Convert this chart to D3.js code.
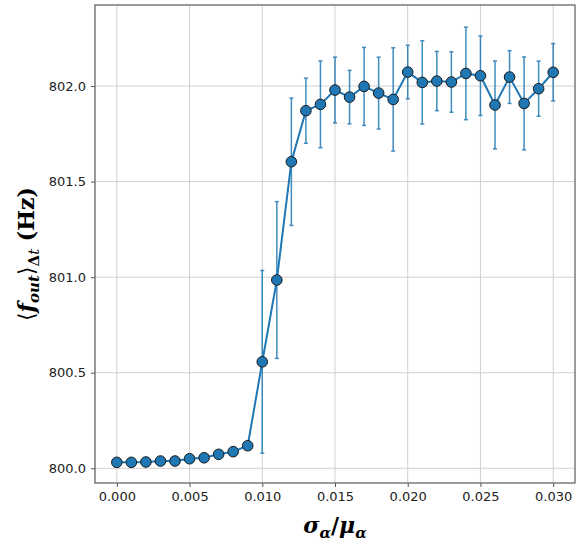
<!DOCTYPE html>
<html>
<head>
<meta charset="utf-8">
<script src="https://cdn.jsdelivr.net/npm/d3@7"></script>
<style>
  body { margin: 0; background: #fff; }
  svg { display: block; }
</style>
</head>
<body>
<div id="chart-area"></div>
<script>
const sigmaRatio = [0.000, 0.001, 0.002, 0.003, 0.004, 0.005, 0.006, 0.007, 0.008, 0.009,
  0.010, 0.011, 0.012, 0.013, 0.014, 0.015, 0.016, 0.017, 0.018, 0.019, 0.020,
  0.021, 0.022, 0.023, 0.024, 0.025, 0.026, 0.027, 0.028, 0.029, 0.030];
const meanFreq = [800.031, 800.031, 800.033, 800.038, 800.038, 800.050, 800.055, 800.073, 800.087, 800.118,
  800.557, 800.985, 801.604, 801.871, 801.904, 801.979, 801.942, 801.998, 801.963, 801.930, 802.073,
  802.019, 802.026, 802.021, 802.066, 802.054, 801.901, 802.047, 801.909, 801.986, 802.072];
const freqErr = [0.003, 0.003, 0.003, 0.003, 0.003, 0.004, 0.004, 0.005, 0.006, 0.008,
  0.478, 0.410, 0.333, 0.170, 0.227, 0.172, 0.140, 0.204, 0.188, 0.270, 0.140,
  0.218, 0.155, 0.158, 0.242, 0.208, 0.230, 0.138, 0.243, 0.144, 0.150];
const xTicks = [0.000, 0.005, 0.010, 0.015, 0.020, 0.025, 0.030];
const yTicks = [800.0, 800.5, 801.0, 801.5, 802.0];

const width = 583, height = 545;
const plotL = 95, plotR = 575, plotT = 5, plotB = 483;
const blue = "#1f77b4";

const svg = d3.select("#chart-area").append("svg")
  .attr("width", width)
  .attr("height", height);

const x = d3.scaleLinear().domain([-0.0015, 0.0315]).range([plotL, plotR]);
const y = d3.scaleLinear().domain([799.923, 802.424]).range([plotB, plotT]);

// grid
svg.append("g").selectAll("line").data(xTicks).join("line")
  .attr("x1", d => x(d)).attr("x2", d => x(d))
  .attr("y1", plotT).attr("y2", plotB)
  .attr("stroke", "#d0d0d0").attr("stroke-width", 1);
svg.append("g").selectAll("line").data(yTicks).join("line")
  .attr("x1", plotL).attr("x2", plotR)
  .attr("y1", d => y(d)).attr("y2", d => y(d))
  .attr("stroke", "#d0d0d0").attr("stroke-width", 1);

// axes
const xAxis = svg.append("g")
  .attr("transform", `translate(0,${plotB})`)
  .call(d3.axisBottom(x).tickValues(xTicks).tickFormat(d3.format(".3f")).tickSize(4).tickPadding(5));
const yAxis = svg.append("g")
  .attr("transform", `translate(${plotL},0)`)
  .call(d3.axisLeft(y).tickValues(yTicks).tickFormat(d3.format(".1f")).tickSize(4).tickPadding(5));
[xAxis, yAxis].forEach(g => {
  g.select(".domain").remove();
  g.selectAll(".tick line").attr("stroke", "#555");
  g.selectAll("text")
    .attr("fill", "#222")
    .style("font-family", "DejaVu Sans, sans-serif")
    .style("font-size", "13px");
});

// spines
svg.append("rect")
  .attr("x", plotL).attr("y", plotT)
  .attr("width", plotR - plotL).attr("height", plotB - plotT)
  .attr("fill", "none").attr("stroke", "#666").attr("stroke-width", 1.3);

// error bars
const errs = svg.append("g").attr("stroke", blue).attr("stroke-width", 1.5).attr("opacity", 0.85);
sigmaRatio.forEach((s, i) => {
  const cx = x(s), y0 = y(meanFreq[i] - freqErr[i]), y1 = y(meanFreq[i] + freqErr[i]);
  errs.append("line").attr("x1", cx).attr("x2", cx).attr("y1", y0).attr("y2", y1);
  errs.append("line").attr("x1", cx - 2).attr("x2", cx + 2).attr("y1", y0).attr("y2", y0);
  errs.append("line").attr("x1", cx - 2).attr("x2", cx + 2).attr("y1", y1).attr("y2", y1);
});

// line
const pts = sigmaRatio.map((s, i) => [s, meanFreq[i]]);
svg.append("path")
  .attr("d", d3.line().x(d => x(d[0])).y(d => y(d[1]))(pts))
  .attr("fill", "none").attr("stroke", blue).attr("stroke-width", 2);

// markers
svg.append("g").selectAll("circle").data(pts).join("circle")
  .attr("cx", d => x(d[0])).attr("cy", d => y(d[1]))
  .attr("r", 5.3)
  .attr("fill", blue).attr("stroke", "#1a1a1a").attr("stroke-width", 1);

// x label
const xl = svg.append("text")
  .attr("x", (plotL + plotR) / 2).attr("y", 533)
  .attr("text-anchor", "middle")
  .style("font-family", "DejaVu Serif, serif")
  .style("font-weight", "bold").style("font-style", "italic")
  .style("font-size", "22px");
xl.append("tspan").text("σ");
xl.append("tspan").attr("dy", 5).style("font-size", "15px").text("α");
xl.append("tspan").attr("dy", -5).style("font-style", "normal").text("/");
xl.append("tspan").text("μ");
xl.append("tspan").attr("dy", 5).style("font-size", "15px").text("α");

// y label
const yl = svg.append("text")
  .attr("transform", `translate(34,${(plotT + plotB) / 2 + 10}) rotate(-90)`)
  .attr("text-anchor", "middle")
  .style("font-family", "DejaVu Serif, serif")
  .style("font-weight", "bold")
  .style("font-size", "22px");
yl.append("tspan").style("font-weight", "normal").text("⟨");
yl.append("tspan").style("font-style", "italic").text("f");
yl.append("tspan").attr("dy", 5).style("font-style", "italic").style("font-size", "15px").text("out");
yl.append("tspan").attr("dy", -5).style("font-weight", "normal").text("⟩");
yl.append("tspan").attr("dy", 5).style("font-size", "15px").text("Δ");
yl.append("tspan").style("font-style", "italic").style("font-size", "15px").style("font-weight", "normal").text("t");
yl.append("tspan").attr("dy", -5).text(" (Hz)");
</script>
</body>
</html>
